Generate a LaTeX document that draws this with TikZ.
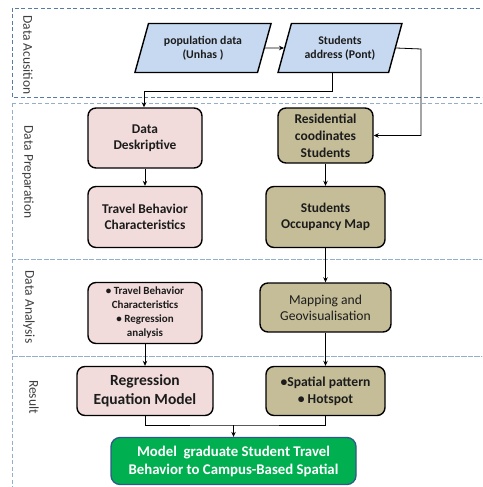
\documentclass[tikz,border=0pt]{standalone}
\usepackage{fontspec}
\setmainfont{Carlito}
\usetikzlibrary{shapes.geometric,arrows.meta}
\definecolor{pblue}{HTML}{C6D9F1}
\definecolor{ppink}{HTML}{F2DCDB}
\definecolor{ptan}{HTML}{C4BD97}
\definecolor{pgreen}{HTML}{00B050}
\definecolor{gborder}{HTML}{2E5A88}
\definecolor{lanedark}{HTML}{5A7AA6}
\definecolor{lanelight}{HTML}{95AECB}
\definecolor{txt}{HTML}{1C1C1C}
\tikzset{
  lane/.style={dash pattern=on 4pt off 2.5pt, line width=0.9pt, draw=lanelight},
  lanelab/.style={rotate=-90, text=txt!85, font=\fontsize{13.5}{15}\selectfont},
  para/.style={trapezium, trapezium left angle=68, trapezium right angle=112, trapezium stretches=true,
     draw=black, line width=1.4pt, fill=pblue, text=txt, align=center, font=\bfseries\fontsize{11.8}{14}\selectfont,
     minimum width=137pt, minimum height=49pt, inner sep=0pt},
  pbox/.style={draw=black, line width=1.4pt, rounded corners=8pt, fill=ppink, text=txt, align=center, inner sep=0pt},
  tbox/.style={draw=black, line width=1.4pt, rounded corners=8pt, fill=ptan, text=txt, align=center, inner sep=0pt},
  conn/.style={line width=0.8pt, draw=black},
  arr/.style={conn, -{Stealth[length=5pt,width=4.5pt]}},
}
\begin{document}
\begin{tikzpicture}[x=1pt,y=-1pt]
\useasboundingbox (0,0) rectangle (482,487);
\begin{scope}
\clip (0,0) rectangle (482,487);
% lanes
\draw[lane, draw=lanedark] (12,8) rectangle (495,97);
\draw[lane] (12,103) rectangle (495,259);
\draw[lane] (12,259) rectangle (495,356);
\draw[lane] (12,356) rectangle (495,500);
\end{scope}
\node[lanelab] (l1) at (28,55) {Data Acusition};
\node[lanelab] (l2) at (28,172) {Data Preparation};
\node[lanelab] (l3) at (29,307) {Data Analysis};
\node[lanelab] (l4) at (34,397) {Result};

% nodes
\node[para] (pop) at (203,48) {population data\\(Unhas )};
\node[para, minimum width=125pt] (sa) at (340,48) {Students\\address (Pont)};

\node[pbox, minimum width=114pt, minimum height=60pt, font=\bfseries\fontsize{13.4}{16}\selectfont] (dd) at (145,138) {Data\\Deskriptive};
\node[pbox, minimum width=114pt, minimum height=61pt, font=\bfseries\fontsize{13.4}{16}\selectfont] (tb) at (145,217) {Travel Behavior\\Characteristics};
\node[pbox, minimum width=114pt, minimum height=61pt, font=\bfseries\fontsize{11}{14}\selectfont] (ba) at (145,313) {• Travel Behavior\\Characteristics\\• Regression\\analysis};
\node[pbox, minimum width=136pt, minimum height=49pt, font=\bfseries\fontsize{15.5}{18.5}\selectfont] (re) at (145,391) {Regression\\Equation Model};

\node[tbox, minimum width=95pt, minimum height=55pt, font=\bfseries\fontsize{13.5}{17}\selectfont] (rc) at (325.5,135.5) {Residential\\coodinates\\Students};
\node[tbox, minimum width=119pt, minimum height=61pt, font=\bfseries\fontsize{13.4}{16}\selectfont] (om) at (325.5,217) {Students\\Occupancy Map};
\node[tbox, minimum width=131pt, minimum height=49pt, font=\fontsize{13.6}{16}\selectfont] (mg) at (325.5,307.5) {Mapping and\\Geovisualisation};
\node[tbox, minimum width=119pt, minimum height=49pt, font=\bfseries\fontsize{13.6}{17}\selectfont] (sp) at (325.5,391) {•Spatial pattern\\• Hotspot};

\node[draw=gborder, line width=1.3pt, rounded corners=9pt, fill=pgreen, text=white, align=center, inner sep=0pt,
      minimum width=245pt, minimum height=47pt, font=\bfseries\fontsize{14.8}{18}\selectfont] (gm) at (233.5,461) {Model~ graduate Student Travel\\Behavior to Campus-Based Spatial};

% connectors
\draw[arr] (pop.east) -- (sa.west);
\draw[arr] ([xshift=-8pt]sa.south) |- (144,91) -- (dd.north -| 144,0);
\coordinate (c1) at (421,49);
\draw[arr] (sa.east) -- (c1) |- (rc.east);
\draw[arr] (dd) -- (tb);
\draw[arr] (rc) -- (om);
\draw[arr] (om) -- (mg);
\draw[arr] (ba) -- (re);
\draw[arr] (mg) -- (sp);
\coordinate (j) at (233.5,425);
\draw[conn] (re.south) |- (j) -| (sp.south);
\draw[arr] (j) -- (gm.north);
\end{tikzpicture}
\end{document}
